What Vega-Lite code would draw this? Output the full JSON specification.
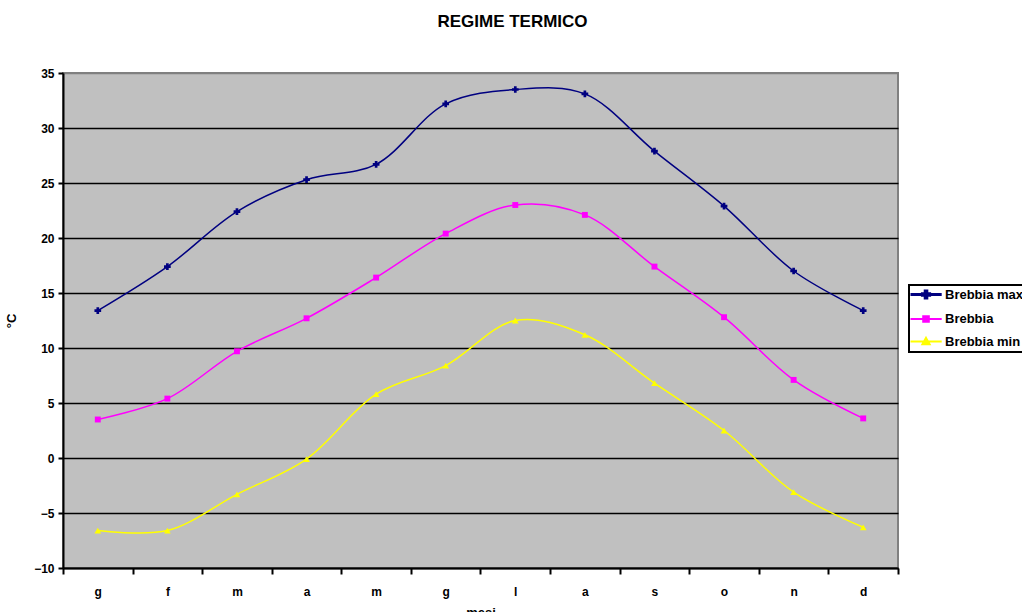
{
  "$schema": "https://vega.github.io/schema/vega-lite/v6.json",
  "width": 835,
  "height": 495,
  "autosize": {"type": "none"},
  "padding": {"left": 63, "top": 73, "right": 124, "bottom": 44},
  "background": "white",
  "title": {
    "text": "REGIME TERMICO",
    "font": "Liberation Sans",
    "fontSize": 17,
    "fontWeight": "bold",
    "color": "black",
    "anchor": "middle",
    "dx": 32,
    "baseline": "alphabetic",
    "offset": 23
  },
  "config": {
    "view": {"fill": "#C0C0C0", "stroke": "#808080", "strokeWidth": 2},
    "axis": {
      "labelFont": "Liberation Sans",
      "labelFontWeight": "bold",
      "labelFontSize": 12,
      "labelColor": "black",
      "titleFont": "Liberation Sans",
      "titleFontWeight": "bold",
      "titleFontSize": 13,
      "titleColor": "black",
      "domainColor": "black",
      "domainWidth": 2,
      "tickColor": "black",
      "tickWidth": 2
    }
  },
  "data": {
    "values": [
      {"mese": "gen", "serie": "Brebbia max", "t": 13.4},
      {"mese": "feb", "serie": "Brebbia max", "t": 17.4},
      {"mese": "mar", "serie": "Brebbia max", "t": 22.4},
      {"mese": "apr", "serie": "Brebbia max", "t": 25.3},
      {"mese": "mag", "serie": "Brebbia max", "t": 26.7},
      {"mese": "giu", "serie": "Brebbia max", "t": 32.2},
      {"mese": "lug", "serie": "Brebbia max", "t": 33.5},
      {"mese": "ago", "serie": "Brebbia max", "t": 33.1},
      {"mese": "set", "serie": "Brebbia max", "t": 27.9},
      {"mese": "ott", "serie": "Brebbia max", "t": 22.9},
      {"mese": "nov", "serie": "Brebbia max", "t": 17.0},
      {"mese": "dic", "serie": "Brebbia max", "t": 13.4},
      {"mese": "gen", "serie": "Brebbia", "t": 3.5},
      {"mese": "feb", "serie": "Brebbia", "t": 5.4},
      {"mese": "mar", "serie": "Brebbia", "t": 9.7},
      {"mese": "apr", "serie": "Brebbia", "t": 12.7},
      {"mese": "mag", "serie": "Brebbia", "t": 16.4},
      {"mese": "giu", "serie": "Brebbia", "t": 20.4},
      {"mese": "lug", "serie": "Brebbia", "t": 23.0},
      {"mese": "ago", "serie": "Brebbia", "t": 22.1},
      {"mese": "set", "serie": "Brebbia", "t": 17.4},
      {"mese": "ott", "serie": "Brebbia", "t": 12.8},
      {"mese": "nov", "serie": "Brebbia", "t": 7.1},
      {"mese": "dic", "serie": "Brebbia", "t": 3.6},
      {"mese": "gen", "serie": "Brebbia min", "t": -6.6},
      {"mese": "feb", "serie": "Brebbia min", "t": -6.6},
      {"mese": "mar", "serie": "Brebbia min", "t": -3.3},
      {"mese": "apr", "serie": "Brebbia min", "t": -0.1},
      {"mese": "mag", "serie": "Brebbia min", "t": 5.8},
      {"mese": "giu", "serie": "Brebbia min", "t": 8.4},
      {"mese": "lug", "serie": "Brebbia min", "t": 12.5},
      {"mese": "ago", "serie": "Brebbia min", "t": 11.2},
      {"mese": "set", "serie": "Brebbia min", "t": 6.8},
      {"mese": "ott", "serie": "Brebbia min", "t": 2.5},
      {"mese": "nov", "serie": "Brebbia min", "t": -3.1},
      {"mese": "dic", "serie": "Brebbia min", "t": -6.3}
    ]
  },
  "encoding": {
    "x": {
      "field": "mese",
      "type": "nominal",
      "sort": ["gen","feb","mar","apr","mag","giu","lug","ago","set","ott","nov","dic"],
      "scale": {"type": "band", "paddingInner": 0, "paddingOuter": 0},
      "axis": {
        "title": "mesi",
        "labelAngle": 0,
        "labelExpr": "slice(datum.label, 0, 1)",
        "tickBand": "extent",
        "tickSize": 6,
        "labelPadding": 12,
        "titlePadding": 9,
        "grid": false
      }
    },
    "y": {
      "field": "t",
      "type": "quantitative",
      "scale": {"domain": [-10, 35], "nice": false, "zero": false},
      "axis": {
        "title": "°C",
        "values": [-10, -5, 0, 5, 10, 15, 20, 25, 30, 35],
        "tickSize": 5,
        "labelPadding": 4,
        "titlePadding": 15,
        "grid": true,
        "gridColor": {"condition": {"test": "datum.value === 35", "value": "#808080"}, "value": "black"},
        "gridWidth": 1.5,
        "gridOpacity": 1
      }
    }
  },
  "layer": [
    {
      "mark": {"type": "line", "interpolate": "catmull-rom", "strokeWidth": 1.5},
      "encoding": {
        "color": {
          "field": "serie",
          "type": "nominal",
          "scale": {
            "domain": ["Brebbia max", "Brebbia", "Brebbia min"],
            "range": ["#000080", "#FF00FF", "#FFFF00"]
          },
          "legend": {
            "title": null,
            "orient": "none",
            "legendX": 846,
            "legendY": 212,
            "strokeColor": "black",
            "fillColor": "white",
            "padding": 3,
            "rowPadding": 6.5,
            "symbolSize": 256,
            "labelFont": "Liberation Sans",
            "labelFontWeight": "bold",
            "labelFontSize": 13,
            "labelColor": "black",
            "labelOffset": 20,
            "encode": {
              "legend": {"update": {"strokeWidth": {"value": 2}}},
              "symbols": {
                "update": {
                  "shape": {"signal": "datum.value === 'Brebbia max' ? 'M-1,0H2.9M0.84,-0.45H1.04V-0.1H1.39V0.1H1.04V0.45H0.84V0.1H0.49V-0.1H0.84Z' : datum.value === 'Brebbia' ? 'M-1,0H2.9M0.59,-0.35H1.29V0.35H0.59Z' : 'M-1,0H2.9M0.94,-0.45L1.39,0.35H0.49Z'"},
                  "fill": {"signal": "datum.value === 'Brebbia max' ? '#000080' : datum.value === 'Brebbia' ? '#FF00FF' : '#FFFF00'"},
                  "stroke": {"signal": "datum.value === 'Brebbia max' ? '#000080' : datum.value === 'Brebbia' ? '#FF00FF' : '#FFFF00'"},
                  "strokeWidth": {"signal": "datum.value === 'Brebbia max' ? 3 : 2"},
                  "opacity": {"value": 1},
                  "fillOpacity": {"value": 1}
                }
              }
            }
          }
        }
      }
    },
    {
      "transform": [{"filter": "datum.serie === 'Brebbia max'"}],
      "mark": {"type": "point", "filled": true, "opacity": 1, "size": 45, "shape": "cross", "color": "#000080"}
    },
    {
      "transform": [{"filter": "datum.serie === 'Brebbia'"}],
      "mark": {"type": "point", "filled": true, "opacity": 1, "size": 35, "shape": "square", "color": "#FF00FF"}
    },
    {
      "transform": [{"filter": "datum.serie === 'Brebbia min'"}],
      "mark": {"type": "point", "filled": true, "opacity": 1, "size": 45, "shape": "triangle-up", "color": "#FFFF00"}
    }
  ]
}
